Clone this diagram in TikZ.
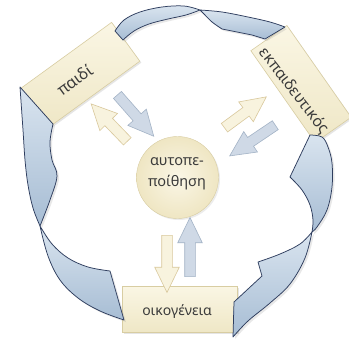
\documentclass[tikz,border=0pt]{standalone}
\usepackage{fontspec}
\setmainfont{Noto Sans}
\usetikzlibrary{shapes.arrows,shadows}
\definecolor{boxtop}{HTML}{FAF6E4}
\definecolor{boxbot}{HTML}{EFE7C6}
\definecolor{boxline}{HTML}{D8CDA2}
\definecolor{circin}{HTML}{FAF6E6}
\definecolor{circout}{HTML}{EFE6C3}
\definecolor{txt}{HTML}{3A3A3A}
\definecolor{clight}{HTML}{D9E4EF}
\definecolor{cdark}{HTML}{A7BDD4}
\definecolor{cline}{HTML}{2E3D5E}
\definecolor{creamfill}{HTML}{F8F3DE}
\definecolor{creamline}{HTML}{D9C89C}
\definecolor{bluefill}{HTML}{CFD9E6}
\definecolor{blueline}{HTML}{A3B3C6}
\begin{document}
\begin{tikzpicture}[x=1pt,y=-1pt,
 box/.style={draw=boxline, line width=0.6pt, top color=boxtop, bottom color=boxbot, inner sep=0pt, minimum width=113pt, minimum height=48pt, drop shadow={opacity=0.2, shadow xshift=1.5pt, shadow yshift=-1.5pt}},
 lbl/.style={text=txt, font=\fontsize{#1}{16}\selectfont, inner sep=0pt},
 lbl/.default=14,
 blk/.style={single arrow, inner xsep=0pt, inner ysep=5pt, single arrow head extend=7pt, single arrow tip angle=52, line width=0.6pt, minimum height=#1},
 cream/.style={blk=#1, fill=creamfill, draw=creamline},
 blue/.style={blk=#1, fill=bluefill, draw=blueline},
 carrow/.style={top color=clight, bottom color=cdark, draw=cline, line width=0.75pt, line join=round, drop shadow={opacity=0.18, shadow xshift=2pt, shadow yshift=-2pt}}
]
\useasboundingbox (0,0) rectangle (349,346);
\fill[white] (0,0) rectangle (349,346);

% boxes
\node[box, rotate=36] (child) at (80,75) {};
\node[lbl=16, rotate=36] (childtxt) at (75,80) {παιδί};
\node[box, rotate=-55, minimum width=112pt, minimum height=44pt] (teacher) at (301,84) {};
\node[lbl=15.5, rotate=-52] (teachertxt) at (294,91) {εκπαιδευτικός};
\node[box, minimum width=115pt, minimum height=46pt] (family) at (179.5,309) {};
\node[lbl] (familytxt) at (177,312) {οικογένεια};

% centre
\node[circle, minimum size=82pt, draw=boxline, line width=0.4pt, inner color=circin, outer color=circout, drop shadow={opacity=0.15, shadow xshift=1.5pt, shadow yshift=-1.5pt}] (self) at (177.5,177.5) {};
\node[lbl, align=center, font=\fontsize{14.5}{21}\selectfont] (selftxt) at (177,174) {αυτοπε-\\ποίθηση};

% block arrows
\node[blue=55pt, rotate=-48.7] (b1) at (132,111.5) {};
\node[cream=52pt, rotate=134] (c1) at (113,126.5) {};
\node[cream=52pt, rotate=36.4] (c2) at (241,115.5) {};
\node[blue=55pt, rotate=214] (b2) at (257,137.5) {};
\node[cream=57pt, rotate=-90] (c3) at (167,258.5) {};
\node[blue=59pt, rotate=90] (b3) at (190,252.5) {};

% curved arrows: top (child -> teacher)
\path[carrow] (115,31) -- plot[smooth,tension=.6] coordinates {(115,31) (124,20) (140,12) (162,7) (184,6) (200,10)}
  -- plot[smooth,tension=.6] coordinates {(200,10) (186,15) (168,19) (149,24) (134,31) (123,40)} -- cycle;
\path[carrow] (200,10) -- plot[smooth,tension=.6] coordinates {(200,10) (222,12) (248,17) (270,22) (285,27)}
  -- (265,39) -- (252,35) -- (222,29)
  -- plot[smooth,tension=.6] coordinates {(222,29) (212,22) (205,15) (200,10)} -- cycle;

% right (teacher -> family)
\path[carrow] (310,135) -- (290,177)
  -- plot[smooth,tension=.6] coordinates {(290,177) (302,190) (310,205) (313,220) (312,232)}
  -- plot[smooth,tension=.6] coordinates {(312,232) (317,227) (327,210) (332,187) (332,163) (328,147) (322,137) (310,135)} -- cycle;
\path[carrow] (312,232) -- plot[smooth,tension=.6] coordinates {(312,232) (300,244) (280,254) (258,262)}
  -- (262,276) -- (234,302) -- (233,337)
  -- plot[smooth,tension=.6] coordinates {(233,337) (248,321) (270,303) (290,284) (305,258) (312,232)} -- cycle;

% left (family -> child)
\path[carrow] (110,271) -- (124,320)
  -- plot[smooth,tension=.6] coordinates {(124,320) (100,311) (78,298) (60,280) (48,256) (40,226)}
  -- plot[smooth,tension=.6] coordinates {(40,226) (52,244) (68,258) (88,267) (110,271)} -- cycle;
\path[carrow] (40,226) -- plot[smooth,tension=.6] coordinates {(40,226) (33,208) (28,185) (25,160) (23,130) (20,87)}
  -- (53,124)
  -- plot[smooth,tension=.6] coordinates {(53,124) (50,142) (52,160) (57,176) (50,200) (40,226)} -- cycle;
\end{tikzpicture}
\end{document}
